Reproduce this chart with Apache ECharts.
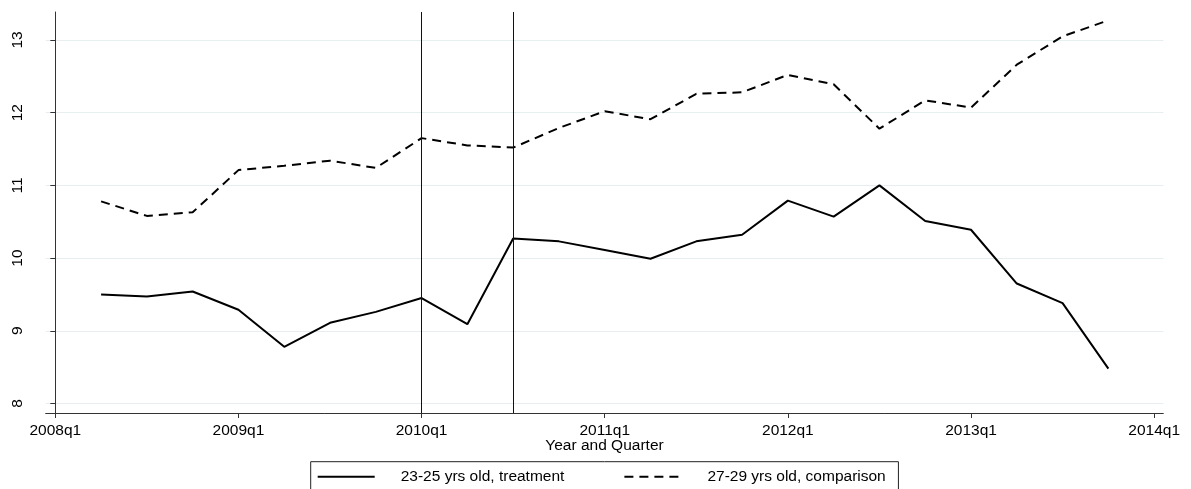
<!DOCTYPE html>
<html>
<head>
<meta charset="utf-8">
<title>Quarterly series, 2008–2013</title>
<script src="https://cdn.jsdelivr.net/npm/echarts@6/dist/echarts.min.js"></script>
<style>
  html, body { margin: 0; padding: 0; background: #fff; }
  #chart { width: 1191px; height: 489px; }
</style>
</head>
<body>
<div id="chart"></div>
<script>
// Quarters observed (2008q2 .. 2013q4)
const quarters = [
  '2008q2','2008q3','2008q4','2009q1','2009q2','2009q3','2009q4',
  '2010q1','2010q2','2010q3','2010q4','2011q1','2011q2','2011q3','2011q4',
  '2012q1','2012q2','2012q3','2012q4','2013q1','2013q2','2013q3','2013q4'
];

// 23-25 yrs old, treatment group
const treatment = [
  9.50, 9.47, 9.54, 9.29, 8.78, 9.11, 9.26,
  9.45, 9.09, 10.27, 10.23, 10.11, 9.99, 10.23, 10.32,
  10.79, 10.57, 11.00, 10.51, 10.39, 9.65, 9.38, 8.48
];

// 27-29 yrs old, comparison group
const comparison = [
  10.78, 10.58, 10.63, 11.21, 11.27, 11.34, 11.24,
  11.65, 11.55, 11.52, 11.79, 12.02, 11.91, 12.26, 12.28,
  12.52, 12.39, 11.78, 12.17, 12.07, 12.66, 13.05, 13.27
];

const seriesNames = ['23-25 yrs old, treatment', '27-29 yrs old, comparison'];

// Axis tick labels
const xTickLabels = ['2008q1','2009q1','2010q1','2011q1','2012q1','2013q1','2014q1'];
const yTickValues = [8, 9, 10, 11, 12, 13];

// Reference lines (policy timing)
const eventQuarters = ['2010q1', '2010q3'];

// Quarter label -> quarters since 2008q1
function qIndex(label) {
  const year = parseInt(label.slice(0, 4), 10);
  const q = parseInt(label.slice(5), 10);
  return (year - 2008) * 4 + (q - 1);
}

const xTickValues = xTickLabels.map(qIndex);
const font = "'Liberation Sans', Arial, sans-serif";
const fs = 15.5;

const chart = echarts.init(document.getElementById('chart'), null, { renderer: 'canvas' });

chart.setOption({
  animation: false,
  backgroundColor: '#ffffff',
  textStyle: { fontFamily: font },
  grid: { left: 45.7, right: 27.7, top: 12, bottom: 76, containLabel: false },
  legend: {
    data: seriesNames,
    left: 310.7,
    top: 461.7,
    orient: 'horizontal',
    padding: [7, 12.7, 7, 6],
    borderColor: '#222',
    borderWidth: 1,
    borderRadius: 0,
    itemWidth: 57,
    itemHeight: 14,
    itemGap: 59,
    selectedMode: false,
    itemStyle: { color: 'rgba(0,0,0,0)', borderWidth: 0, opacity: 0 },
    textStyle: {
      fontFamily: font,
      fontSize: fs,
      color: '#000',
      width: 201,
      padding: [0, 0, 0, 21]
    }
  },
  xAxis: {
    type: 'value',
    min: -0.21,
    max: 24.2,
    name: 'Year and Quarter',
    nameLocation: 'middle',
    nameGap: 25,
    nameMoveOverlap: false,
    nameTextStyle: { fontFamily: font, fontSize: fs, color: '#000' },
    axisLine: { show: true, lineStyle: { color: '#333', width: 1 } },
    axisTick: { show: true, length: 5, customValues: xTickValues, lineStyle: { color: '#333' } },
    axisLabel: {
      customValues: xTickValues,
      fontFamily: font,
      fontSize: fs,
      color: '#000',
      margin: 10,
      formatter: v => xTickLabels[xTickValues.indexOf(Math.round(v))] || ''
    },
    splitLine: { show: false }
  },
  yAxis: {
    type: 'value',
    min: 7.869,
    max: 13.385,
    axisLine: { show: true, lineStyle: { color: '#333', width: 1 } },
    axisTick: { show: true, length: 5, customValues: yTickValues, lineStyle: { color: '#333' } },
    axisLabel: {
      customValues: yTickValues,
      rotate: 90,
      fontFamily: font,
      fontSize: fs,
      color: '#000',
      margin: 20
    },
    splitLine: { show: true, lineStyle: { color: '#e6eeef', width: 1 } }
  },
  series: [
    {
      name: seriesNames[0],
      type: 'line',
      data: quarters.map((q, i) => [qIndex(q), treatment[i]]),
      symbol: 'none',
      showSymbol: false,
      lineStyle: { color: '#000', width: 2, type: 'solid' },
      itemStyle: { color: '#000' },
      emphasis: { disabled: true },
      markLine: {
        silent: true,
        symbol: ['none', 'none'],
        label: { show: false },
        lineStyle: { color: '#111', width: 1, type: 'solid' },
        data: eventQuarters.map(q => ({ xAxis: qIndex(q) }))
      }
    },
    {
      name: seriesNames[1],
      type: 'line',
      data: quarters.map((q, i) => [qIndex(q), comparison[i]]),
      symbol: 'none',
      showSymbol: false,
      lineStyle: { color: '#000', width: 2, type: [9, 6] },
      itemStyle: { color: '#000' },
      emphasis: { disabled: true }
    }
  ]
});
</script>
</body>
</html>
